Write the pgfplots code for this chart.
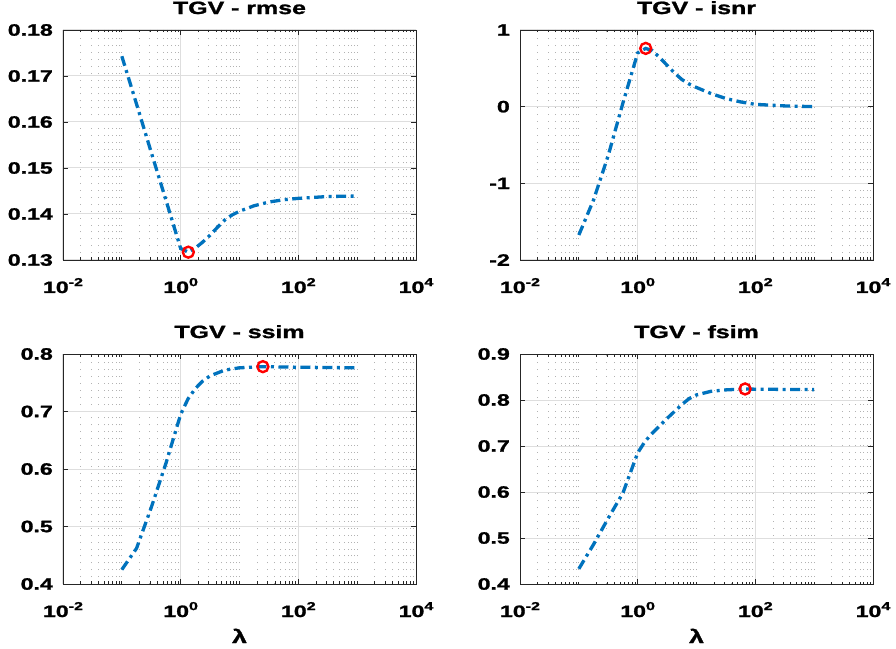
\documentclass[border=0pt]{standalone}
\usepackage{fontspec}
\setmainfont{Liberation Sans}[FakeBold=1.2]
\usepackage{graphicx}
\usepackage{pgfplots}
\pgfplotsset{compat=1.18}
\definecolor{mblue}{rgb}{0,0.447,0.741}
\definecolor{mred}{rgb}{1,0,0}
\newcommand\sx[1]{\scalebox{1.4}[1]{#1}}
\newcommand\sups[1]{\raisebox{0.42em}{\fontsize{11.5bp}{12bp}\selectfont\bfseries #1}}
\pgfplotsset{
  mystyle/.style={
    scale only axis, width=353bp, height=230bp,
    xmin=1e-2, xmax=1e4,
    xtick={1e-2,1,1e2,1e4},
    xticklabels={\sx{10\sups{-2}},\sx{10\sups{0}},\sx{10\sups{2}},\sx{10\sups{4}}},
    minor xtick={0.02,0.03,0.04,0.05,0.06,0.07,0.08,0.09,0.1,0.2,0.3,0.4,0.5,0.6,0.7,0.8,0.9,2,3,4,5,6,7,8,9,10,20,30,40,50,60,70,80,90,200,300,400,500,600,700,800,900,1000,2000,3000,4000,5000,6000,7000,8000,9000},
    xmajorgrids, xminorgrids, ymajorgrids,
    major grid style={solid, black!13, line width=1bp},
    minor grid style={black!30, line width=0.9bp, dash pattern=on 0.9bp off 6bp},
    tick align=inside, tick pos=both, major tick length=5bp, minor tick length=2.5bp,
    axis line style={black!85, line width=0.9bp},
    every tick/.style={black!85, line width=0.8bp},
    tick label style={font=\fontsize{16.5bp}{18bp}\selectfont\bfseries},
    xticklabel style={anchor=base, inner sep=0pt, yshift=-33bp},
    yticklabel style={anchor=east, inner sep=0pt, xshift=-10bp},
    title style={at={(0.5,1)}, anchor=base, inner sep=0pt, yshift=10bp, font=\fontsize{17.8bp}{20bp}\selectfont\bfseries},
    xlabel style={at={(0.5,0)}, anchor=base, inner sep=0pt, yshift=-59bp, font=\fontsize{19bp}{20bp}\selectfont\bfseries},
  },
  curve/.style={mblue, line width=3.3bp, dash pattern=on 10bp off 4.5bp on 3bp off 4.5bp},
  opt/.style={only marks, mark=o, mark size=5.5bp, mred, line width=2.4bp},
}
\begin{document}
\begin{tikzpicture}
\path[use as bounding box] (0,0) rectangle (896bp,649bp);
% rmse
\begin{semilogxaxis}[mystyle, at={(63bp,389bp)}, anchor=south west,
  title={\sx{TGV - rmse}}, ymin=0.13, ymax=0.18,
  ytick={0.13,0.14,0.15,0.16,0.17,0.18},
  yticklabels={\sx{0.13},\sx{0.14},\sx{0.15},\sx{0.16},\sx{0.17},\sx{0.18}}]
\addplot[curve] coordinates {(0.1,0.1743) (0.1778,0.1639) (0.3162,0.1534) (0.5623,0.1430) (1.0,0.1325) (1.35,0.1317) (1.778,0.1326) (2.371,0.1339) (3.162,0.1354) (4.217,0.1371) (5.623,0.1387) (7.499,0.1398) (10,0.1406) (17.78,0.1418) (31.62,0.1426) (56.23,0.1431) (100,0.1434) (316.2,0.1438) (1000,0.1439)};
\addplot[opt] coordinates {(1.35,0.1317)};
\end{semilogxaxis}
% isnr
\begin{semilogxaxis}[mystyle, at={(520bp,389bp)}, anchor=south west,
  title={\sx{TGV - isnr}}, ymin=-2, ymax=1,
  ytick={-2,-1,0,1},
  yticklabels={\sx{-2},\sx{-1},\sx{0},\sx{1}}]
\addplot[curve] coordinates {(0.1,-1.674) (0.1778,-1.217) (0.3162,-0.636) (0.5623,0.05) (1.0,0.70) (1.37,0.76) (1.778,0.73) (2.371,0.64) (3.162,0.54) (4.217,0.44) (5.623,0.355) (7.499,0.295) (10,0.25) (17.78,0.17) (31.62,0.106) (56.23,0.062) (100,0.03) (316.2,0.01) (1000,0.0)};
\addplot[opt] coordinates {(1.37,0.76)};
\end{semilogxaxis}
% ssim
\begin{semilogxaxis}[mystyle, at={(63bp,65bp)}, anchor=south west,
  title={\sx{TGV - ssim}}, ymin=0.4, ymax=0.8, xlabel={\sx{λ}},
  ytick={0.4,0.5,0.6,0.7,0.8},
  yticklabels={\sx{0.4},\sx{0.5},\sx{0.6},\sx{0.7},\sx{0.8}}]
\addplot[curve] coordinates {(0.1,0.425) (0.1778,0.462) (0.3162,0.533) (0.5623,0.61) (1.0,0.695) (1.334,0.722) (1.778,0.740) (2.371,0.753) (3.162,0.762) (5.623,0.772) (10,0.776) (25,0.778) (100,0.777) (1000,0.776)};
\addplot[opt] coordinates {(25,0.778)};
\end{semilogxaxis}
% fsim
\begin{semilogxaxis}[mystyle, at={(520bp,65bp)}, anchor=south west,
  title={\sx{TGV - fsim}}, ymin=0.4, ymax=0.9, xlabel={\sx{λ}},
  ytick={0.4,0.5,0.6,0.7,0.8,0.9},
  yticklabels={\sx{0.4},\sx{0.5},\sx{0.6},\sx{0.7},\sx{0.8},\sx{0.9}}]
\addplot[curve] coordinates {(0.1,0.433) (0.1778,0.486) (0.3162,0.543) (0.5623,0.598) (1.0,0.685) (1.334,0.710) (1.778,0.728) (3.162,0.76) (5.623,0.79) (7.499,0.803) (10,0.811) (17.78,0.819) (31.62,0.822) (67,0.824) (100,0.8235) (316.2,0.823) (1000,0.8225)};
\addplot[opt] coordinates {(67,0.824)};
\end{semilogxaxis}
\end{tikzpicture}
\end{document}
